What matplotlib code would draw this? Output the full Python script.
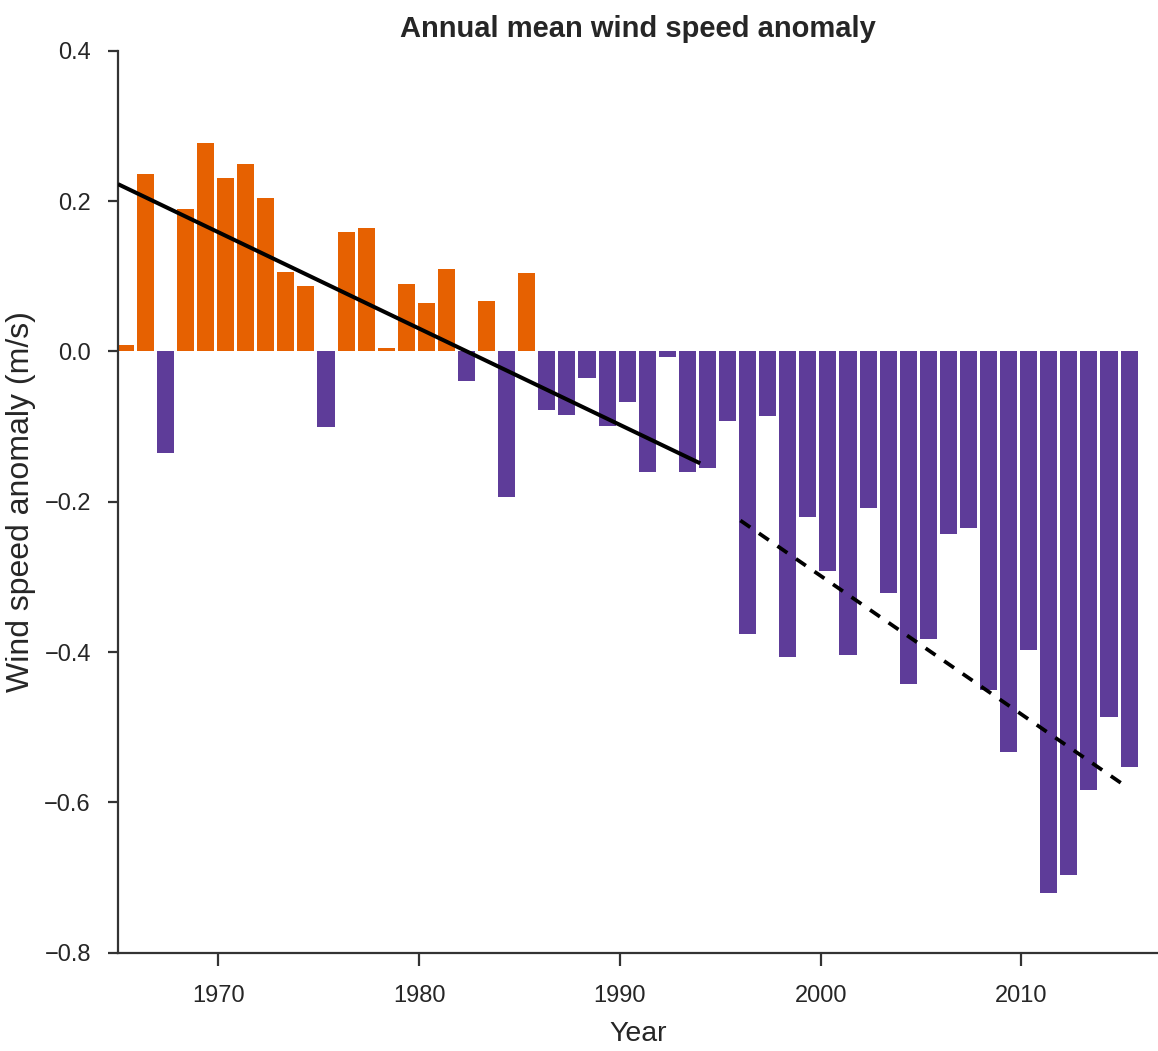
import matplotlib
matplotlib.use("Agg")
import matplotlib.pyplot as plt
import numpy as np

# Annual mean wind speed anomaly (m/s)
years = np.arange(1965, 2016)
anomaly = [
    0.008, 0.236, -0.135, 0.190, 0.277, 0.231, 0.249, 0.204, 0.106, 0.087,
    -0.100, 0.159, 0.164, 0.005, 0.089, 0.065, 0.110, -0.039, 0.067, -0.194,
    0.104, -0.078, -0.084, -0.035, -0.099, -0.068, -0.161, -0.008, -0.161, -0.155,
    -0.092, -0.376, -0.086, -0.407, -0.221, -0.292, -0.404, -0.208, -0.321, -0.443,
    -0.383, -0.243, -0.235, -0.450, -0.533, -0.397, -0.720, -0.697, -0.584, -0.487,
    -0.553,
]

# trend lines (end points)
trend1_years = [1965, 1994]
trend1_values = [0.2225, -0.149]
trend2_years = [1996, 2015]
trend2_values = [-0.225, -0.575]

orange = "#e66101"
purple = "#5e3c99"
text_col = "#262626"
spine_col = "#333333"
narrow = ["Liberation Sans", "DejaVu Sans"]
regular = ["Liberation Sans", "DejaVu Sans"]

fig = plt.figure(figsize=(11.58, 10.51), dpi=100)
ax = fig.add_axes([118 / 1158, 1 - 952.7 / 1051, (1158 - 118) / 1158, (952.7 - 50.7) / 1051])

anomaly = np.array(anomaly)
colors = [orange if v >= 0 else purple for v in anomaly]
ax.bar(years + 0.36, anomaly, width=0.85, color=colors, zorder=2)

ax.plot(trend1_years, trend1_values, color="black", lw=2.9, solid_capstyle="butt", zorder=3)
ax.plot(trend2_years, trend2_values, color="black", lw=2.7, dashes=(3.2, 2.8), zorder=3)

ax.set_xlim(1965, 2016.8)
ax.set_ylim(-0.8, 0.4)
ax.set_xticks([1970, 1980, 1990, 2000, 2010])
ax.set_yticks([-0.8, -0.6, -0.4, -0.2, 0.0, 0.2, 0.4])
ax.set_yticklabels(["\u22120.8", "\u22120.6", "\u22120.4", "\u22120.2", "0.0", "0.2", "0.4"])

for side in ["top", "right"]:
    ax.spines[side].set_visible(False)
for side in ["left", "bottom"]:
    ax.spines[side].set_color(spine_col)
    ax.spines[side].set_linewidth(1.6)

ax.tick_params(axis="y", length=7.5, width=1.6, color=spine_col, pad=12)
ax.tick_params(axis="x", length=9.5, width=1.6, color=spine_col, pad=14)
for lab in ax.get_xticklabels() + ax.get_yticklabels():
    lab.set_family(narrow)
    lab.set_fontsize(17)
    lab.set_color(text_col)

ax.set_xlabel("Year", family=narrow, fontsize=20.5, color=text_col, labelpad=10)
ax.set_ylabel("Wind speed anomaly (m/s)", family=regular, fontsize=23, color=text_col)
ax.yaxis.set_label_coords(-0.079, 0.5)
ax.set_title("Annual mean wind speed anomaly", family=narrow, fontsize=21,
             fontweight="bold", color=text_col, pad=10)

fig.savefig("out.png", dpi=100)
